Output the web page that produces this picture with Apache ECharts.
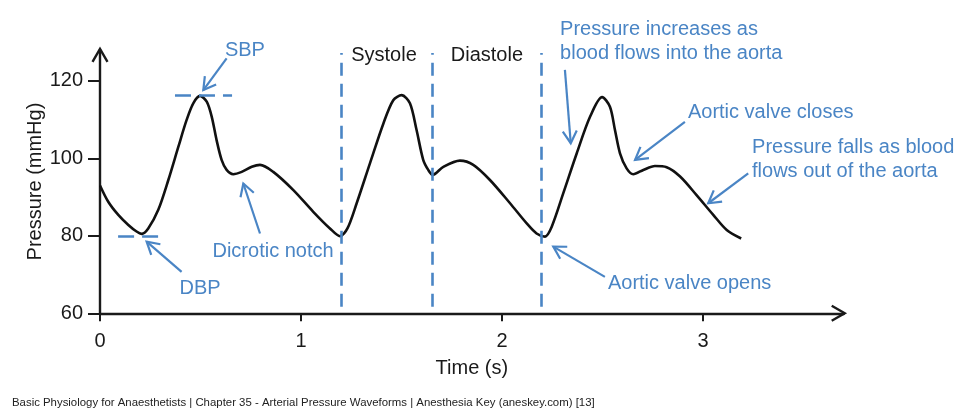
<!DOCTYPE html>
<html><head><meta charset="utf-8">
<script src="https://cdn.jsdelivr.net/npm/echarts@6/dist/echarts.min.js"></script>
<style>html,body{margin:0;padding:0;background:#fff}#c{width:980px;height:418px}</style>
</head><body><div id="c"></div>
<script>
// ---- data ----
const times = [0, 0.041, 0.091, 0.141, 0.182, 0.207, 0.240, 0.290, 0.340, 0.390, 0.431, 0.464, 0.498,
  0.531, 0.556, 0.580, 0.605, 0.630, 0.663, 0.705, 0.755, 0.796, 0.862, 0.962, 1.061, 1.144, 1.194,
  1.231, 1.277, 1.343, 1.410, 1.459, 1.501, 1.542, 1.575, 1.608, 1.633, 1.655,
  1.708, 1.791, 1.857, 1.940, 2.040, 2.123, 2.172, 2.214,
  2.247, 2.305, 2.372, 2.438, 2.498, 2.537, 2.562, 2.587, 2.620, 2.653,
  2.703, 2.761, 2.819, 2.886, 2.968, 3.051, 3.118, 3.190];
const pressures = [93.0, 88.8, 85.4, 82.8, 81.1, 80.5, 81.9, 86.7, 94.4, 103.0, 109.9, 114.2, 116.1,
  114.6, 110.7, 104.7, 99.6, 97.0, 95.9, 96.5, 97.8, 98.3, 96.5, 91.8, 86.2, 81.9, 79.9,
  81.9, 88.4, 98.7, 109.0, 115.0, 116.3, 114.2, 107.3, 99.6, 97.0, 95.7,
  97.8, 99.4, 98.3, 94.4, 88.4, 83.2, 80.6, 79.8,
  82.3, 91.0, 101.3, 110.7, 115.8, 113.3, 107.3, 101.3, 97.4, 95.9,
  97.0, 98.0, 97.7, 95.3, 90.5, 85.4, 81.5, 79.3];
const xTicks = [0, 1, 2, 3];
const yTicks = [60, 80, 100, 120];
const phaseTimes = [1.2, 1.655, 2.197];
const phaseRange = [61.7, 127.2];
const sbp = {value: 116.3, from: 0.373, to: 0.657};
const dbp = {value: 80.0, from: 0.09, to: 0.294};
const phaseLabels = [
  {text: 'Systole', t: 1.413, v: 126.5},
  {text: 'Diastole', t: 1.925, v: 126.5}
];
const notes = [
  {text: 'SBP', t: 0.721, v: 127.9, align: 'center'},
  {text: 'DBP', t: 0.498, v: 66.3, align: 'center'},
  {text: 'Dicrotic notch', t: 0.861, v: 75.9, align: 'center'},
  {text: 'Pressure increases as\nblood flows into the aorta', t: 2.289, v: 130.1, align: 'left'},
  {text: 'Aortic valve closes', t: 2.925, v: 111.8, align: 'left'},
  {text: 'Pressure falls as blood\nflows out of the aorta', t: 3.244, v: 99.6, align: 'left'},
  {text: 'Aortic valve opens', t: 2.527, v: 67.7, align: 'left'}
];
const arrows = [
  {from: [0.630, 125.8], to: [0.514, 117.6]},
  {from: [0.406, 70.7], to: [0.232, 78.5]},
  {from: [0.796, 80.6], to: [0.713, 93.5]},
  {from: [2.313, 122.8], to: [2.342, 103.9]},
  {from: [2.910, 109.4], to: [2.662, 99.6]},
  {from: [3.225, 96.1], to: [3.026, 88.4]},
  {from: [2.512, 69.4], to: [2.255, 77.2]}
];
const xMax = 3.7, yMax = 128;
const footer = 'Basic Physiology for Anaesthetists | Chapter 35 - Arterial Pressure Waveforms | Anesthesia Key (aneskey.com) [13]';

// ---- styling ----
const FONT = '"Liberation Sans", Arial, Helvetica, sans-serif';
const BLUE = '#4a85c5';
const INK = '#1a1a1a';

const chart = echarts.init(document.getElementById('c'), null, {renderer: 'canvas'});
const blueDash = {color: BLUE, width: 2.6, type: [16, 8], cap: 'butt'};
const option = {
  animation: false,
  grid: {left: 100, top: 49.8, width: 743.7, height: 263.5, containLabel: false},
  xAxis: {
    type: 'value', min: 0, max: xMax,
    axisLine: {show: true, lineStyle: {color: INK, width: 2.4}},
    axisTick: {show: true, length: 8, inside: false, customValues: xTicks, lineStyle: {color: INK, width: 2}},
    axisLabel: {customValues: xTicks, margin: 18, color: INK, fontSize: 20, fontFamily: FONT},
    splitLine: {show: false},
    name: 'Time (s)', nameLocation: 'middle', nameGap: 45, nameMoveOverlap: false,
    nameTextStyle: {color: INK, fontSize: 20, fontFamily: FONT, verticalAlign: 'top'}
  },
  yAxis: {
    type: 'value', min: 60, max: yMax,
    axisLine: {show: true, lineStyle: {color: INK, width: 2.4}},
    axisTick: {show: true, length: 12, customValues: yTicks, lineStyle: {color: INK, width: 2}},
    axisLabel: {customValues: yTicks, margin: 17, color: INK, fontSize: 20, fontFamily: FONT},
    splitLine: {show: false},
    name: 'Pressure (mmHg)', nameLocation: 'middle', nameGap: 55, nameRotate: 90, nameMoveOverlap: false,
    nameTextStyle: {color: INK, fontSize: 20, fontFamily: FONT}
  },
  series: [{
    type: 'line',
    data: times.map((t, i) => [t, pressures[i]]),
    smooth: 0.3,
    showSymbol: false,
    lineStyle: {color: '#111', width: 2.6},
    markLine: {
      silent: true, symbol: 'none', label: {show: false},
      data: [
        ...phaseTimes.map(t => [{coord: [t, phaseRange[0]], lineStyle: {color: BLUE, width: 2.6, type: [13, 8]}}, {coord: [t, phaseRange[1]]}]),
        [{coord: [sbp.from, sbp.value], lineStyle: blueDash}, {coord: [sbp.to, sbp.value]}],
        [{coord: [dbp.from, dbp.value], lineStyle: blueDash}, {coord: [dbp.to, dbp.value]}]
      ]
    }
  }]
};
chart.setOption(option);

function px(t, v) { return chart.convertToPixel({gridIndex: 0}, [t, v]); }
function chevron(tip, dir, len, color, w) {
  const ang = Math.PI / 6;
  const pts = [];
  for (const s of [1, -1]) {
    const a = Math.atan2(dir[1], dir[0]) + Math.PI + s * ang;
    pts.push([tip[0] + len * Math.cos(a), tip[1] + len * Math.sin(a)]);
  }
  return {type: 'polyline', shape: {points: [pts[0], tip, pts[1]]}, style: {stroke: color, lineWidth: w, fill: null, lineJoin: 'miter'}, silent: true};
}
const g = [];
arrows.forEach(a => {
  const p0 = px(a.from[0], a.from[1]), p1 = px(a.to[0], a.to[1]);
  g.push({type: 'line', shape: {x1: p0[0], y1: p0[1], x2: p1[0], y2: p1[1]}, style: {stroke: BLUE, lineWidth: 2.2}, silent: true});
  const d = [p1[0] - p0[0], p1[1] - p0[1]];
  g.push(chevron(p1, d, 14, BLUE, 2.2));
});
// axis arrow heads
const xEnd = px(xMax, 60), yEnd = px(0, yMax);
g.push(chevron([xEnd[0] + 1, xEnd[1]], [1, 0], 15, INK, 2.4));
g.push(chevron([yEnd[0], yEnd[1] - 1], [0, -1], 15, INK, 2.4));
notes.forEach(n => {
  const p = px(n.t, n.v);
  g.push({type: 'text', x: p[0], y: p[1], silent: true,
    style: {text: n.text, fill: BLUE, font: '20px ' + FONT, align: n.align, verticalAlign: 'middle', lineHeight: 24}});
});
phaseLabels.forEach(n => {
  const p = px(n.t, n.v);
  g.push({type: 'text', x: p[0], y: p[1], silent: true,
    style: {text: n.text, fill: INK, font: '20px ' + FONT, align: 'center', verticalAlign: 'middle'}});
});
g.push({type: 'text', left: 12, top: 397, silent: true, style: {text: footer, fill: '#222', font: '11.4px ' + FONT}});
chart.setOption({graphic: g});
</script></body></html>
